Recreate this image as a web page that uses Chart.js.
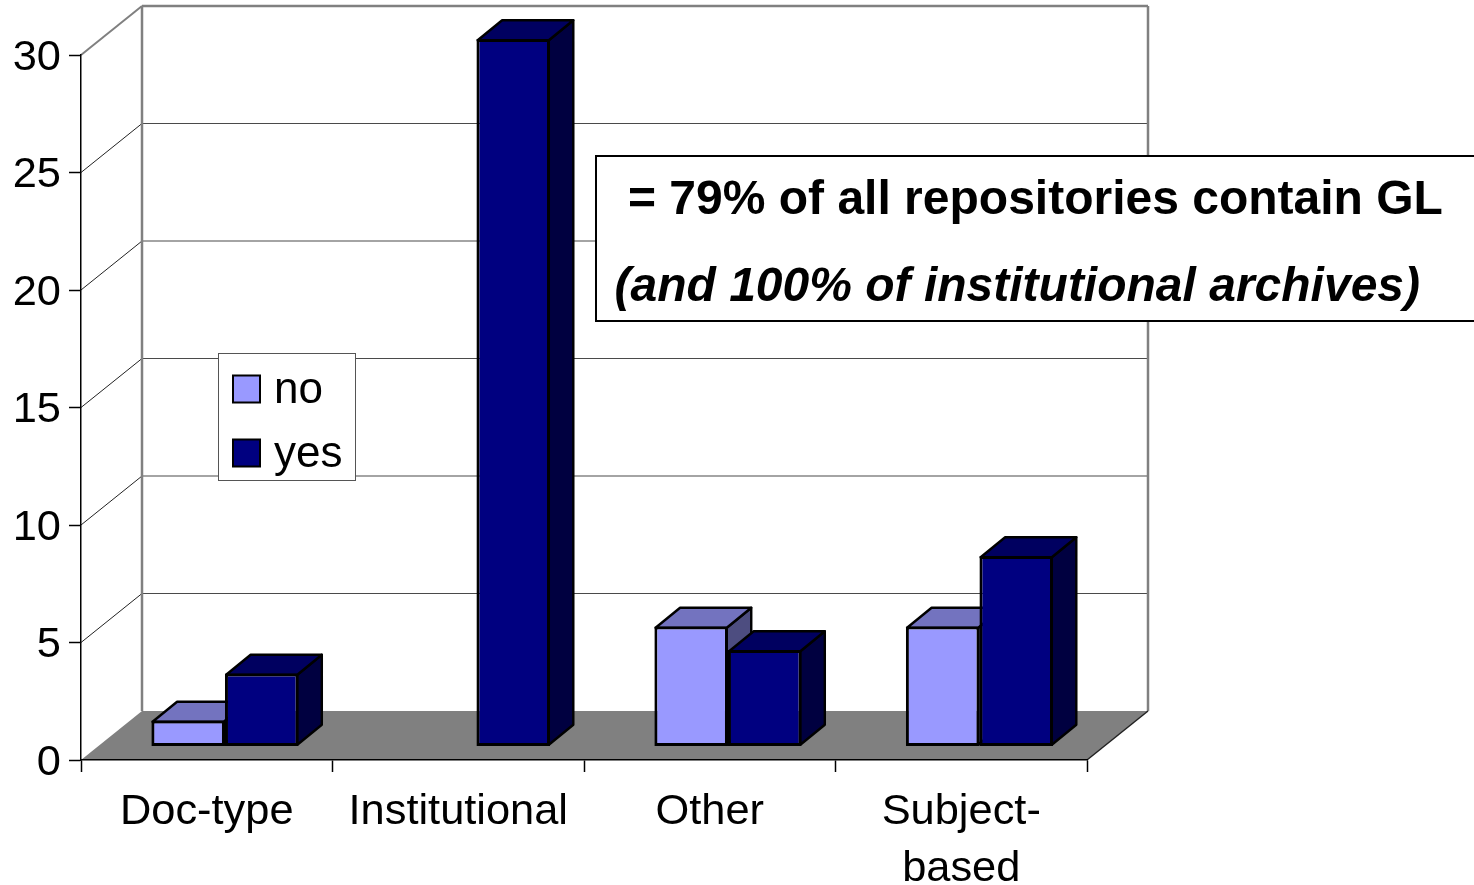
<!DOCTYPE html>
<html>
<head>
<meta charset="utf-8">
<style>html,body{margin:0;padding:0;background:#fff;overflow:hidden}canvas{display:block}</style>
<script src="https://cdn.jsdelivr.net/npm/chart.js@4/dist/chart.umd.min.js"></script>
</head>
<body>
<canvas id="c" width="1474" height="885"></canvas>
<script>
const categories = [['Doc-type'], ['Institutional'], ['Other'], ['Subject-', 'based']];
const noValues = [1, null, 5, 5];
const yesValues = [3, 30, 4, 8];
const yTicks = [0, 5, 10, 15, 20, 25, 30];
const calloutLines = ['= 79% of all repositories contain GL', '(and 100% of institutional archives)'];

const FONT = '"Liberation Sans", Arial, sans-serif';
const WALL = { dx: 61, dy: -49 };
const BAR_SHIFT = 18.2, BAR_LIFT_PX = 16;
const DEPTH = { dx: 24.5, dy: -20 };
const PX_PER_UNIT = 23.5;
const palette = {
  no: { front: '#9999ff', top: '#7373bf', side: '#4d4d80' },
  yes: { front: '#000080', top: '#000060', side: '#000040' }
};

function poly(ctx, pts, fill, stroke, lw) {
  ctx.beginPath();
  pts.forEach((p, i) => i ? ctx.lineTo(p[0], p[1]) : ctx.moveTo(p[0], p[1]));
  ctx.closePath();
  if (fill) { ctx.fillStyle = fill; ctx.fill(); }
  if (stroke) { ctx.strokeStyle = stroke; ctx.lineWidth = lw; ctx.lineJoin = 'round'; ctx.stroke(); }
}
function line(ctx, x1, y1, x2, y2, color, lw) {
  ctx.beginPath(); ctx.moveTo(x1, y1); ctx.lineTo(x2, y2);
  ctx.strokeStyle = color; ctx.lineWidth = lw; ctx.stroke();
}

const box3d = {
  id: 'box3d',
  beforeDraw(chart) {
    const { ctx, chartArea: a, scales } = chart;
    const y = scales.y;
    ctx.save();
    poly(ctx, [[a.left, a.bottom], [a.right, a.bottom], [a.right + WALL.dx, a.bottom + WALL.dy], [a.left + WALL.dx, a.bottom + WALL.dy]], '#808080');
    y.ticks.forEach(t => {
      if (t.value === 0) return;
      const p = y.getPixelForValue(t.value);
      const top = t.value === 30;
      line(ctx, a.left, p, a.left + WALL.dx, p + WALL.dy, top ? '#808080' : '#222', top ? 2 : 1);
      line(ctx, a.left + WALL.dx, p + WALL.dy, a.right + WALL.dx, p + WALL.dy, top ? '#808080' : '#4a4a4a', top ? 2.5 : 1.2);
    });
    line(ctx, a.left + WALL.dx, a.top + WALL.dy, a.left + WALL.dx, a.bottom + WALL.dy, '#808080', 2.5);
    line(ctx, a.right + WALL.dx, a.top + WALL.dy, a.right + WALL.dx, a.bottom + WALL.dy, '#808080', 2.5);
    line(ctx, a.right, a.bottom, a.right + WALL.dx, a.bottom + WALL.dy, '#222', 1.5);
    ctx.restore();
  },
  // Draw the series left to right so each bar's depth faces overlap as in a 3D column chart.
  beforeDatasetsDraw(chart) {
    const { ctx } = chart;
    chart.data.datasets.forEach((ds, i) => {
      const meta = chart.getDatasetMeta(i);
      const colors = palette[ds.label];
      ctx.save();
      ctx.translate(BAR_SHIFT, 0);
      meta.data.forEach((el, k) => {
        if (ds.data[k] == null) return;
        const p = el.getProps(['x', 'y', 'base', 'width'], true);
        const l = p.x - p.width / 2 + 1.2, r = p.x + p.width / 2 - 1.2;
        const d = DEPTH, top = p.y + 1.2, base = p.base - 1.2;
        poly(ctx, [[r, top], [r + d.dx, top + d.dy], [r + d.dx, base + d.dy], [r, base]], colors.side, '#000', 2.4);
        poly(ctx, [[l, top], [l + d.dx, top + d.dy], [r + d.dx, top + d.dy], [r, top]], colors.top, '#000', 2.4);
      });
      meta.controller.draw();
      ctx.restore();
    });
    return false;
  },
  afterDraw(chart) {
    const { ctx } = chart;
    ctx.save();
    ctx.fillStyle = '#fff';
    ctx.fillRect(218.5, 353.5, 137, 127);
    ctx.strokeStyle = '#555'; ctx.lineWidth = 1;
    ctx.strokeRect(218.5, 353.5, 137, 127);
    const rows = [389, 453];
    chart.data.datasets.forEach((ds, i) => {
      ctx.fillStyle = ds.backgroundColor;
      ctx.fillRect(233, rows[i] - 13.5, 27, 27);
      ctx.strokeStyle = '#000'; ctx.lineWidth = 2;
      ctx.strokeRect(233, rows[i] - 13.5, 27, 27);
      ctx.fillStyle = '#000';
      ctx.font = '44px ' + FONT;
      ctx.textAlign = 'left'; ctx.textBaseline = 'alphabetic';
      ctx.fillText(ds.label, 274, rows[i] + 14);
    });
    ctx.fillStyle = '#fff';
    ctx.fillRect(596, 156, 890, 165);
    ctx.strokeStyle = '#000'; ctx.lineWidth = 2;
    ctx.strokeRect(596, 156, 890, 165);
    ctx.fillStyle = '#000';
    ctx.font = 'bold 48px ' + FONT;
    ctx.fillText(calloutLines[0], 628, 214);
    ctx.font = 'italic bold 48px ' + FONT;
    ctx.fillText(calloutLines[1], 614.5, 301);
    ctx.restore();
  }
};

const barStyle = { yAxisID: 'yBars', borderColor: '#000', borderWidth: 3, borderSkipped: false, clip: false, categoryPercentage: 0.585, barPercentage: 1, base: -2 / PX_PER_UNIT };

new Chart(document.getElementById('c'), {
  type: 'bar',
  data: {
    labels: categories,
    datasets: [
      { label: 'no', data: noValues, backgroundColor: palette.no.front, ...barStyle },
      { label: 'yes', data: yesValues, backgroundColor: palette.yes.front, ...barStyle }
    ]
  },
  plugins: [box3d],
  options: {
    responsive: false,
    animation: false,
    events: [],
    layout: { padding: { top: 55, right: 387, left: 0, bottom: 0 } },
    plugins: { legend: { display: false }, tooltip: { enabled: false }, title: { display: false } },
    scales: {
      x: {
        afterFit(s) { s.height = 125; },
        grid: { offset: true, drawOnChartArea: false, tickLength: 12, tickColor: '#000', tickWidth: 1.5 },
        border: { display: true, color: '#000', width: 1.5 },
        ticks: { color: '#000', font: { family: FONT, size: 43.4, lineHeight: 1.3 }, maxRotation: 0, autoSkip: false, padding: 12 }
      },
      y: {
        position: 'left',
        min: 0, max: 30,
        afterFit(s) { s.width = 81; },
        afterBuildTicks(s) { s.ticks = yTicks.map(v => ({ value: v })); },
        grid: { drawOnChartArea: false, tickLength: 12, tickColor: '#000', tickWidth: 1.5 },
        border: { display: true, color: '#000', width: 1.5 },
        ticks: { color: '#000', font: { family: FONT, size: 43.4 }, padding: 8, labelOffset: 3 }
      },
      yBars: {
        display: false,
        position: 'left',
        min: -BAR_LIFT_PX / PX_PER_UNIT,
        max: (705 - BAR_LIFT_PX) / PX_PER_UNIT
      }
    }
  }
});
</script>
</body>
</html>
